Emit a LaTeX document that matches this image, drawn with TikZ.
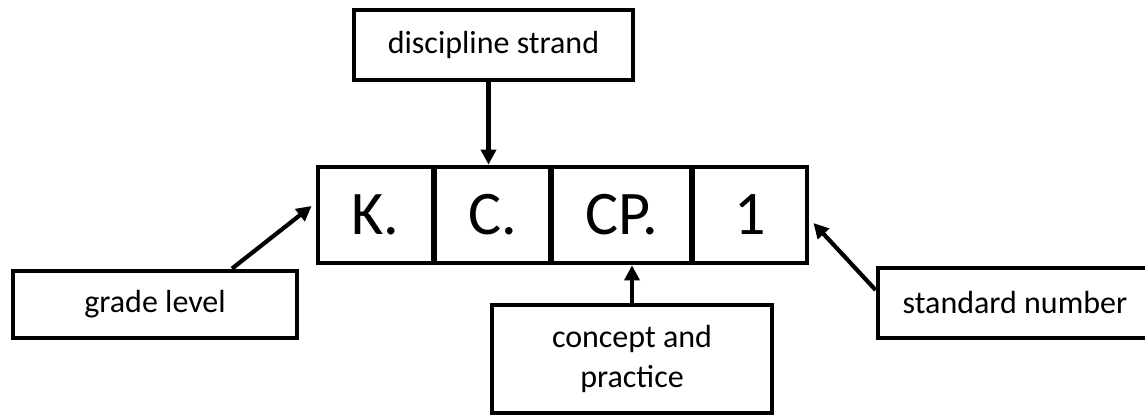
\documentclass[tikz,border=0pt]{standalone}
\usepackage{fontspec}
\setmainfont{Carlito}
\usetikzlibrary{arrows.meta}
\begin{document}
\begin{tikzpicture}[x=1pt,y=1pt,
  lbl/.style={draw=black, line width=4.8pt, inner sep=0pt, minimum height=70pt,
    font=\fontsize{32}{40}\selectfont, align=center},
  cell/.style={draw=black, line width=4.8pt, inner sep=0pt, minimum height=96pt,
    font=\fontsize{62}{70}\selectfont},
  arr/.style={line width=4.2pt, -{Triangle[length=15pt,width=15pt]}}]
\useasboundingbox (0,0) rectangle (1145,416);
\node[lbl, minimum width=279pt] (disc) at (493.5,371) {discipline strand};
\node[cell, minimum width=115pt] (K) at (375.5,201) {K.};
\node[cell, minimum width=115pt] (C) at (492.5,201) {C.};
\node[cell, minimum width=139pt] (CP) at (621.5,201) {CP.};
\node[cell, minimum width=114pt] (one) at (750,201) {1};
\node[lbl, minimum width=284pt, minimum height=67pt] (grade) at (155,111.5) {grade level};
\node[lbl, minimum width=280pt, minimum height=108pt] (concept) at (632,57) {concept and\\practice};
\node[lbl, minimum width=274pt] (std) at (1015,113) {standard number};
\draw[arr] ([xshift=-5pt]disc.south) -- ([xshift=-5pt]disc.south |- C.north);
\draw[arr] ([xshift=77pt]grade.north) -- ([xshift=-4pt,yshift=9pt]K.west);
\draw[arr] (concept.north) -- (concept.north |- CP.south);
\draw[arr] ([yshift=13pt]std.west) -- ([xshift=4pt,yshift=-8pt]one.east);
\end{tikzpicture}
\end{document}
